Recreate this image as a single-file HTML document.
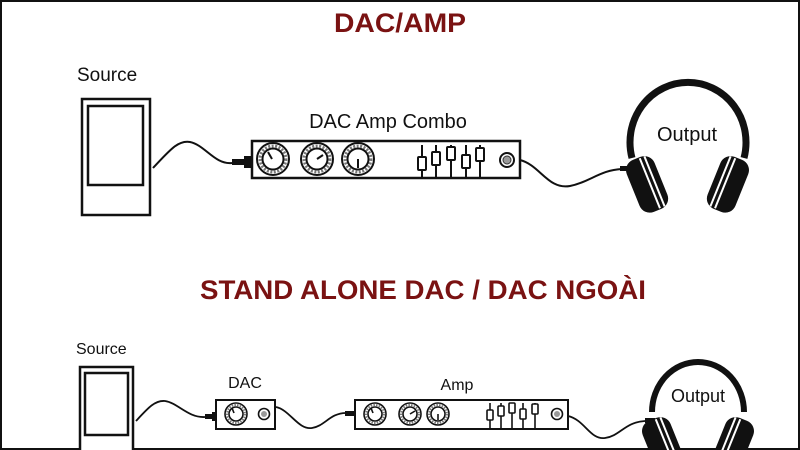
<!DOCTYPE html>
<html><head><meta charset="utf-8"><style>
html,body{margin:0;padding:0;background:#fff;width:800px;height:450px;overflow:hidden}
svg{display:block}
text{font-family:"Liberation Sans",sans-serif}
</style></head><body>
<svg width="800" height="450" viewBox="0 0 800 450" xmlns="http://www.w3.org/2000/svg" overflow="hidden">
<defs>
<g id="knob">
 <circle r="16" fill="#fff" stroke="#111" stroke-width="2"/>
 <circle r="13" fill="none" stroke="#777" stroke-width="3" stroke-dasharray="2 1.5"/>
 <circle r="10.5" fill="#fff" stroke="#111" stroke-width="2"/>
</g>
<g id="knobS">
 <circle r="11" fill="#fff" stroke="#111" stroke-width="1.6"/>
 <circle r="9" fill="none" stroke="#777" stroke-width="2" stroke-dasharray="1.5 1.2"/>
 <circle r="7" fill="#fff" stroke="#111" stroke-width="1.6"/>
</g>
<g id="jack"><circle r="7" fill="#fff" stroke="#111" stroke-width="2"/><circle r="4" fill="#999" stroke="#333" stroke-width="1"/></g>
<g id="cupL">
 <g transform="rotate(-22)">
 <rect x="-16" y="-28" width="30" height="56" rx="11" fill="#111"/>
 <line x1="2" y1="-27" x2="2" y2="27" stroke="#fff" stroke-width="2"/>
 <line x1="7" y1="-27" x2="7" y2="27" stroke="#fff" stroke-width="2"/>
 </g>
</g>
</defs>
<rect x="1" y="1" width="798" height="448" fill="none" stroke="#111" stroke-width="2"/>

<text x="400" y="32" text-anchor="middle" font-size="27" font-weight="bold" fill="#7a1212" textLength="132" lengthAdjust="spacingAndGlyphs">DAC/AMP</text>
<text x="423" y="299" text-anchor="middle" font-size="27" font-weight="bold" fill="#7a1212" textLength="446" lengthAdjust="spacingAndGlyphs">STAND ALONE DAC / DAC NGOÀI</text>

<!-- TOP -->
<text x="77" y="81" font-size="19" fill="#111">Source</text>
<rect x="82" y="99" width="68" height="116" fill="#fff" stroke="#111" stroke-width="2.5"/>
<rect x="88" y="106" width="55" height="79" fill="#fff" stroke="#111" stroke-width="2.5"/>
<path d="M153 168 C170 150 178 140 190 142 C205 145 215 165 232 163" fill="none" stroke="#111" stroke-width="2"/>
<rect x="232" y="159" width="12" height="6" fill="#111"/><rect x="244" y="156" width="8" height="12" fill="#111"/>
<text x="388" y="128" text-anchor="middle" font-size="20" fill="#111">DAC Amp Combo</text>
<rect x="252" y="141" width="268" height="37" fill="#fff" stroke="#111" stroke-width="2.5"/>
<use href="#knob" x="273" y="159"/><line x1="272" y1="159" x2="268" y2="152" stroke="#111" stroke-width="2"/>
<use href="#knob" x="317" y="159"/><line x1="317" y1="159" x2="323" y2="155" stroke="#111" stroke-width="2"/>
<use href="#knob" x="358" y="159"/><line x1="358" y1="159" x2="358" y2="168" stroke="#111" stroke-width="2"/>
<g stroke="#111" stroke-width="2" fill="#fff">
<line x1="422" y1="145" x2="422" y2="178"/><rect x="418" y="157" width="8" height="13" rx="1"/>
<line x1="436" y1="145" x2="436" y2="178"/><rect x="432" y="152" width="8" height="13" rx="1"/>
<line x1="451" y1="145" x2="451" y2="178"/><rect x="447" y="147" width="8" height="13" rx="1"/>
<line x1="466" y1="145" x2="466" y2="178"/><rect x="462" y="155" width="8" height="13" rx="1"/>
<line x1="480" y1="145" x2="480" y2="178"/><rect x="476" y="148" width="8" height="13" rx="1"/>
</g>
<use href="#jack" x="507" y="160"/>
<path d="M520 160 C540 165 548 190 570 186 C590 182 600 170 622 169" fill="none" stroke="#111" stroke-width="2"/>
<rect x="620" y="166" width="12" height="5" fill="#111"/>
<path d="M632 158 A58 60 0 1 1 744 158" fill="none" stroke="#111" stroke-width="7"/>
<text x="687" y="141" text-anchor="middle" font-size="20" fill="#111">Output</text>
<use href="#cupL" x="648" y="184"/>
<use href="#cupL" transform="translate(1375 0) scale(-1 1)" x="648" y="184"/>

<!-- BOTTOM -->
<text x="76" y="354" font-size="16" fill="#111">Source</text>
<rect x="80" y="367" width="53" height="90" fill="#fff" stroke="#111" stroke-width="2.5"/>
<rect x="85" y="373" width="43" height="62" fill="#fff" stroke="#111" stroke-width="2.5"/>
<path d="M136 421 C148 408 155 400 165 401 C178 403 188 418 205 417" fill="none" stroke="#111" stroke-width="1.8"/>
<rect x="205" y="414" width="8" height="5" fill="#111"/><rect x="212" y="412" width="5" height="9" fill="#111"/>
<text x="245" y="388" text-anchor="middle" font-size="16" fill="#111">DAC</text>
<rect x="216" y="400" width="59" height="29" fill="#fff" stroke="#111" stroke-width="2"/>
<use href="#knobS" x="236" y="414"/><line x1="234" y1="413" x2="232" y2="408" stroke="#111" stroke-width="1.6"/>
<circle cx="264" cy="414" r="5.5" fill="#fff" stroke="#111" stroke-width="1.6"/><circle cx="264" cy="414" r="3" fill="#999"/>
<path d="M276 407 C290 410 298 430 312 428 C325 426 330 413 346 413" fill="none" stroke="#111" stroke-width="1.8"/>
<rect x="345" y="411" width="10" height="5" fill="#111"/>
<text x="457" y="390" text-anchor="middle" font-size="16" fill="#111">Amp</text>
<rect x="355" y="400" width="213" height="29" fill="#fff" stroke="#111" stroke-width="2"/>
<use href="#knobS" x="375" y="414"/><line x1="373" y1="413" x2="371" y2="408" stroke="#111" stroke-width="1.6"/>
<use href="#knobS" x="410" y="414"/><line x1="410" y1="414" x2="415" y2="411" stroke="#111" stroke-width="1.6"/>
<use href="#knobS" x="438" y="414"/><line x1="438" y1="414" x2="438" y2="420" stroke="#111" stroke-width="1.6"/>
<g stroke="#111" stroke-width="1.6" fill="#fff">
<line x1="490" y1="403" x2="490" y2="428"/><rect x="487" y="410" width="6" height="10" rx="1"/>
<line x1="501" y1="403" x2="501" y2="428"/><rect x="498" y="406" width="6" height="10" rx="1"/>
<line x1="512" y1="403" x2="512" y2="428"/><rect x="509" y="403" width="6" height="10" rx="1"/>
<line x1="523" y1="403" x2="523" y2="428"/><rect x="520" y="409" width="6" height="10" rx="1"/>
<line x1="535" y1="403" x2="535" y2="428"/><rect x="532" y="404" width="6" height="10" rx="1"/>
</g>
<circle cx="557" cy="414" r="5.5" fill="#fff" stroke="#111" stroke-width="1.6"/><circle cx="557" cy="414" r="3" fill="#999"/>
<path d="M568 416 C585 420 590 440 605 438 C620 436 625 422 645 421" fill="none" stroke="#111" stroke-width="1.8"/>
<rect x="645" y="418" width="10" height="5" fill="#111"/>
<path d="M652 412 A46 50 0 1 1 744 412" fill="none" stroke="#111" stroke-width="6"/>
<text x="698" y="402" text-anchor="middle" font-size="18" fill="#111">Output</text>
<use href="#cupL" x="664" y="445"/>
<use href="#cupL" transform="translate(1396 0) scale(-1 1)" x="664" y="445"/>
</svg>
</body></html>
